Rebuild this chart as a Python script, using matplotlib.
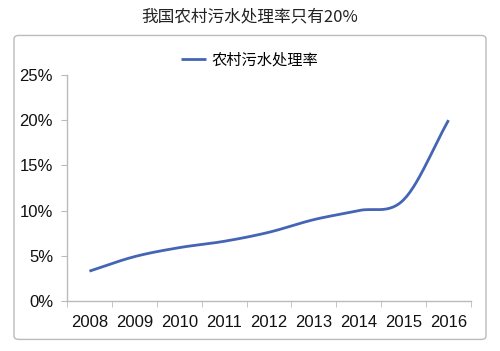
import matplotlib.pyplot as plt
import numpy as np
from matplotlib.patches import FancyBboxPatch

plt.rcParams['font.family'] = ['Noto Sans CJK SC', 'DejaVu Sans']

# data
years = ['2008', '2009', '2010', '2011', '2012', '2013', '2014', '2015', '2016']
rate = [3.3, 4.9, 5.9, 6.6, 7.6, 9.0, 10.0, 11.2, 20.0]   # %
yticks = [0, 5, 10, 15, 20, 25]

title = '我国农村污水处理率只有20%'
series_name = '农村污水处理率'
line_color = '#4464B4'


def smooth(xs, ys, n=30):
    # Excel-style smoothed line (Catmull-Rom through the points)
    xs = np.asarray(xs, float)
    ys = np.asarray(ys, float)
    m = np.gradient(ys, xs)
    px, py = [], []
    for i in range(len(xs) - 1):
        t = np.linspace(0, 1, n)
        h = xs[i + 1] - xs[i]
        h00 = 2*t**3 - 3*t**2 + 1
        h10 = t**3 - 2*t**2 + t
        h01 = -2*t**3 + 3*t**2
        h11 = t**3 - t**2
        px.extend(xs[i] + t*h)
        py.extend(h00*ys[i] + h10*h*m[i] + h01*ys[i+1] + h11*h*m[i+1])
    return np.array(px), np.array(py)


fig = plt.figure(figsize=(5.0, 3.51), dpi=100)

box = FancyBboxPatch((0.028, 0.033), 0.944, 0.866, boxstyle='round,pad=0,rounding_size=0.01',
                     transform=fig.transFigure, facecolor='none', edgecolor='#BBBBBB',
                     linewidth=1.0, zorder=-1)
fig.patches.append(box)

fig.text(0.5, 0.952, title, ha='center', va='center', fontsize=12, color='#222222')

ax = fig.add_axes([0.134, 0.1425, 0.808, 0.644])
ax.set_facecolor('none')

x = np.arange(len(years))
sx, sy = smooth(x, rate)
ax.plot(sx, sy, color=line_color, linewidth=2.0, label=series_name, solid_capstyle='butt')

ax.set_xlim(-0.5, len(years) - 0.5)
ax.set_ylim(0, 25)
ax.set_yticks(yticks)
ax.set_yticklabels([f'{v}%' for v in yticks], family=['Liberation Sans'], fontsize=12)
ax.set_xticks(x)
ax.set_xticklabels(years, family=['Liberation Sans'], fontsize=12)
ax.set_xticks(np.arange(len(years) + 1) - 0.5, minor=True)
ax.tick_params(axis='x', which='major', length=0, pad=10, colors='#111111')
ax.tick_params(axis='x', which='minor', length=4, color='#BBBBBB')
ax.tick_params(axis='y', length=4, color='#BBBBBB', pad=6, colors='#111111')
ax.tick_params(axis='y', color='#BBBBBB')

for s in ['top', 'right']:
    ax.spines[s].set_visible(False)
for s in ['left', 'bottom']:
    ax.spines[s].set_color('#BBBBBB')
    ax.spines[s].set_linewidth(1.0)

fig.legend(loc='center', bbox_to_anchor=(0.5, 0.829), frameon=False,
           handlelength=1.6, handletextpad=0.4, prop={'style': 'italic', 'size': 11})

fig.savefig('out.png', dpi=100)
